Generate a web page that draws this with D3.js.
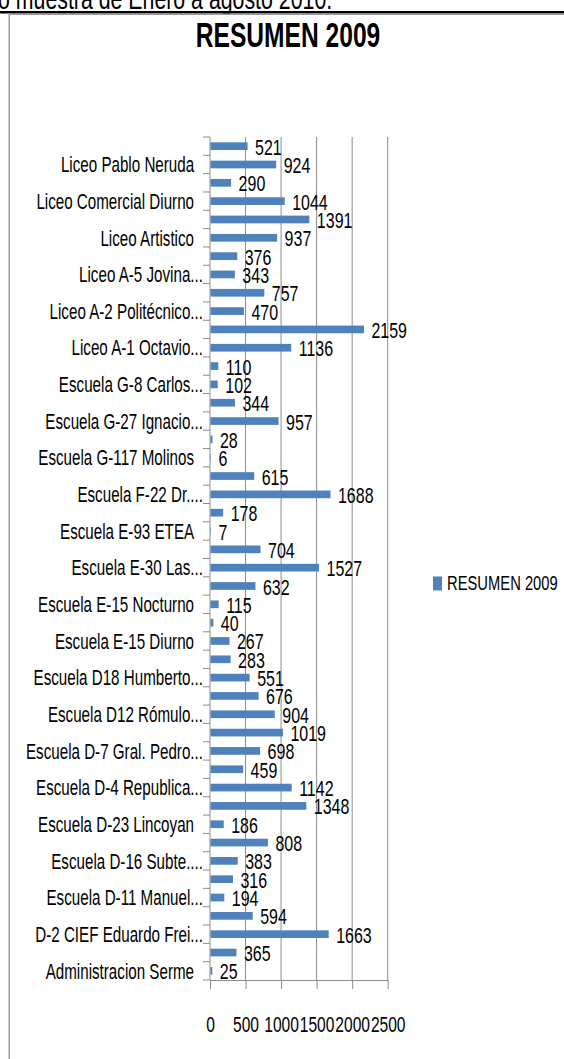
<!DOCTYPE html>
<html>
<head>
<meta charset="utf-8">
<script src="https://cdnjs.cloudflare.com/ajax/libs/d3/7.8.5/d3.min.js"></script>
<style>
  body { margin: 0; background: #fff; }
  svg text { font-family: "Liberation Sans", Arial, sans-serif; fill: #000; }
  /* Calibri-like look: narrow and a bit tall */
  .cal { transform-box: fill-box; transform: scale(0.82, 1.16); }
  .cal-start { transform-origin: left center; }
  .cal-end { transform-origin: right center; }
  .cal-mid { transform-origin: center center; }
</style>
</head>
<body>
<div class="svg-wrap"></div>
<script>
// bars listed top to bottom, as in the picture
const values = [521, 924, 290, 1044, 1391, 937, 376, 343, 757, 470, 2159, 1136,
  110, 102, 344, 957, 28, 6, 615, 1688, 178, 7, 704, 1527, 632, 115, 40, 267,
  283, 551, 676, 904, 1019, 698, 459, 1142, 1348, 186, 808, 383, 316, 194,
  594, 1663, 365, 25];

// only every second category shows its label (the 2nd, 4th, ... bar)
const tickLabels = ["Liceo Pablo Neruda", "Liceo Comercial Diurno", "Liceo Artistico",
  "Liceo A-5 Jovina...", "Liceo A-2 Politécnico...", "Liceo A-1 Octavio...",
  "Escuela G-8 Carlos...", "Escuela G-27 Ignacio...", "Escuela G-117 Molinos",
  "Escuela F-22 Dr....", "Escuela E-93 ETEA", "Escuela E-30 Las...",
  "Escuela E-15 Nocturno", "Escuela E-15 Diurno", "Escuela D18 Humberto...",
  "Escuela D12 Rómulo...", "Escuela D-7 Gral. Pedro...", "Escuela D-4 Republica...",
  "Escuela D-23 Lincoyan", "Escuela D-16 Subte....", "Escuela D-11 Manuel...",
  "D-2 CIEF Eduardo Frei...", "Administracion Serme"];

const xTicks = [0, 500, 1000, 1500, 2000, 2500];
const seriesName = "RESUMEN 2009";
const title = "RESUMEN 2009";

const width = 564;
const height = 1059;
const plotLeft = 210, plotRight = 387.7, plotTop = 137, plotBottom = 980;
const barColor = "#4f81bd";
const gridColor = "#8c8c8c";

let svg = d3.select(".svg-wrap")
  .append("svg")
  .attr("width", width)
  .attr("height", height);

// bits of the surrounding document
svg.append("text")
  .attr("class", "cal cal-start")
  .attr("x", -2)
  .attr("y", 8)
  .style("font-size", "26px")
  .text("o muestra de Enero a agosto 2010.");

svg.append("rect")
  .attr("x", 0).attr("y", 11)
  .attr("width", width).attr("height", 2.5)
  .attr("fill", "#000");

// chart frame
svg.append("rect")
  .attr("x", 9.25).attr("y", 14.25)
  .attr("width", 600).attr("height", 1100)
  .attr("fill", "none")
  .attr("stroke", "#9a9a9a")
  .attr("stroke-width", 1.5);

let x = d3.scaleLinear().domain([0, 2500]).range([plotLeft, plotRight]);
let y = d3.scaleBand()
  .domain(d3.range(values.length))
  .range([plotTop, plotBottom])
  .paddingInner(0.58)
  .paddingOuter(0.29);

// vertical gridlines
svg.append("g")
  .selectAll("line")
  .data(xTicks.slice(1))
  .enter()
  .append("line")
  .attr("x1", d => x(d)).attr("x2", d => x(d))
  .attr("y1", plotTop).attr("y2", plotBottom)
  .attr("stroke", gridColor)
  .attr("stroke-width", 1);

// x axis
let xAxis = d3.axisBottom(x)
  .tickValues(xTicks)
  .tickFormat(d3.format("d"))
  .tickSize(9)
  .tickSizeOuter(0);
let gx = svg.append("g")
  .attr("transform", `translate(0,${plotBottom})`)
  .call(xAxis);
gx.select(".domain").attr("stroke", gridColor);
gx.selectAll(".tick line").attr("stroke", gridColor);
gx.selectAll(".tick text")
  .attr("class", "cal cal-mid")
  .attr("y", 1024 - plotBottom)
  .attr("dy", "0.36em")
  .style("font-size", "19px");

// y axis: labels at category centres, ticks at category boundaries
let yAxis = d3.axisLeft(y)
  .tickSize(0)
  .tickPadding(0)
  .tickFormat(i => i % 2 === 1 ? tickLabels[(i - 1) / 2] : "");
let gy = svg.append("g")
  .attr("transform", `translate(${plotLeft},0)`)
  .call(yAxis);
gy.select(".domain").remove();
gy.selectAll(".tick text")
  .attr("class", "cal cal-end")
  .attr("x", function (i) {
    let t = i % 2 === 1 ? tickLabels[(i - 1) / 2] : "";
    return t.endsWith("...") ? -7 : -16;
  })
  .attr("dy", "0.36em")
  .style("font-size", "18.5px");

let step = y.step();
svg.append("g")
  .selectAll("line")
  .data(d3.range(values.length + 1))
  .enter()
  .append("line")
  .attr("x1", plotLeft - 7).attr("x2", plotLeft)
  .attr("y1", d => plotTop + d * step).attr("y2", d => plotTop + d * step)
  .attr("stroke", gridColor);

svg.append("line")
  .attr("x1", plotLeft).attr("x2", plotLeft)
  .attr("y1", plotTop).attr("y2", plotBottom)
  .attr("stroke", gridColor);

// bars
svg.append("g")
  .selectAll("rect")
  .data(values)
  .enter()
  .append("rect")
  .attr("x", x(0) + 0.5)
  .attr("y", (d, i) => y(i))
  .attr("width", d => x(d) - x(0))
  .attr("height", y.bandwidth())
  .attr("fill", barColor);

// value labels
svg.append("g")
  .selectAll("text")
  .data(values)
  .enter()
  .append("text")
  .attr("class", "cal cal-start")
  .attr("x", d => x(d) + 8)
  .attr("y", (d, i) => y(i) + y.bandwidth() / 2)
  .attr("dy", "0.38em")
  .style("font-size", "19.5px")
  .text(d => d);

// title
svg.append("text")
  .attr("class", "cal cal-mid")
  .attr("x", 288)
  .attr("y", 35)
  .attr("dy", "0.36em")
  .attr("text-anchor", "middle")
  .style("font-size", "30px")
  .style("font-weight", "bold")
  .text(title);

// legend
svg.append("rect")
  .attr("x", 433).attr("y", 576.5)
  .attr("width", 9).attr("height", 14)
  .attr("fill", barColor);
svg.append("text")
  .attr("class", "cal cal-start")
  .attr("x", 447)
  .attr("y", 582.5)
  .attr("dy", "0.36em")
  .style("font-size", "18px")
  .text(seriesName);
</script>
</body>
</html>
